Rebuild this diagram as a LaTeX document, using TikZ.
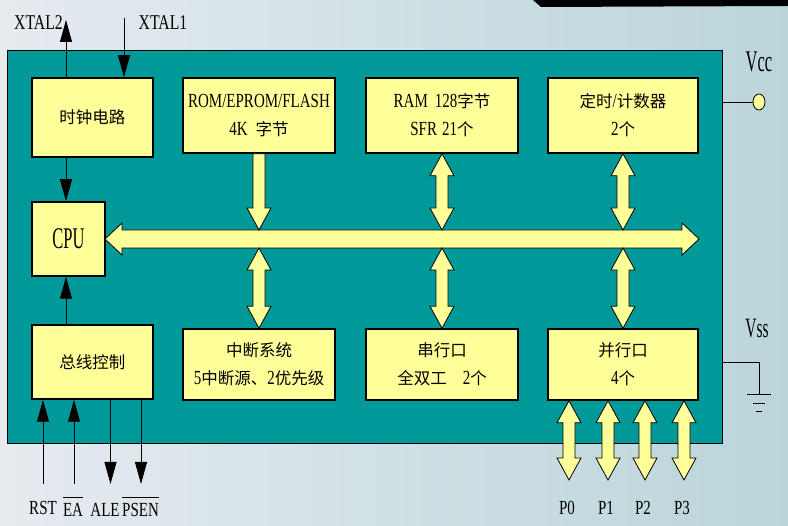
\documentclass[tikz,border=0pt]{standalone}
\usepackage{fontspec}
\setmainfont{Liberation Serif}[FakeStretch=0.75]
\newfontfamily\narrow{Liberation Serif}[FakeStretch=0.55]
\newfontfamily\cjk{Noto Sans CJK SC}
\usetikzlibrary{arrows.meta,calc,shapes.geometric}

\definecolor{chipteal}{RGB}{0,153,153}
\definecolor{boxyellow}{RGB}{255,255,153}
\definecolor{bgleft}{RGB}{230,235,240}
\definecolor{bgright}{RGB}{186,213,218}

\newcommand\zh[1]{{\cjk\fontsize{16.5}{28}\selectfont #1}}
\newcommand\ovl[1]{\vbox{\hrule height 1.2pt\kern 6pt\hbox{#1}}}

% fat arrows: double (top tip, bottom tip), single down, horizontal bus
\newcommand\fatvv[2]{\draw[fat] let \p1=(#1), \p2=(#2) in
  (\x1,\y1) -- ++(12pt,-22pt) -- ++(-6pt,0pt) -- ({\x1+6pt},{\y2+22pt}) -- ++(6pt,0pt)
  -- (\x1,\y2) -- ++(-12pt,22pt) -- ++(6pt,0pt) -- ({\x1-6pt},{\y1-22pt}) -- ++(-6pt,0pt) -- cycle;}
\newcommand\fatv[2]{\draw[fat] let \p1=(#1), \p2=(#2) in
  ({\x1-6pt},\y1) -- ({\x1+6pt},\y1) -- ({\x1+6pt},{\y2+22pt}) -- ++(6pt,0pt)
  -- (\x1,\y2) -- ++(-12pt,22pt) -- ++(6pt,0pt) -- cycle;}
\newcommand\fathh[2]{\draw[fat] let \p1=(#1), \p2=(#2) in
  (\x1,\y1) -- ++(17pt,16pt) -- ++(0pt,-7pt) -- ({\x2-17pt},{\y1+9pt}) -- ++(0pt,7pt)
  -- (\x2,\y1) -- ++(-17pt,-16pt) -- ++(0pt,7pt) -- ({\x1+17pt},{\y1-9pt}) -- ++(0pt,-7pt) -- cycle;}

\begin{document}
\begin{tikzpicture}[x=1pt,y=-1pt,
  box/.style={draw, line width=1.5pt, fill=boxyellow, minimum width=152pt, minimum height=73pt,
    align=center, inner sep=0pt, font=\fontsize{20}{28}\selectfont},
  sig/.style={line width=0.8pt, -{Triangle[length=22pt,width=12pt]}},
  fat/.style={draw, fill=boxyellow, line width=0.8pt},
  lbl/.style={inner sep=0pt, anchor=base, font=\fontsize{20}{20}\selectfont}]
\useasboundingbox (0,0) rectangle (788,526);
\shade[left color=bgleft, right color=bgright] (0,0) rectangle (788,526);
\fill[black] (533,0) -- (788,0) -- (788,6) -- (541,7) -- cycle;

% chip
\node[draw, fill=chipteal, line width=0.8pt, minimum width=715pt, minimum height=393pt, inner sep=0pt] (chip) at (364.5,246.5) {};

% blocks
\node[box, minimum width=121pt, minimum height=79pt] (clk) at (92.5,117.5) {\zh{时钟电路}};
\node[box, minimum height=75pt] (rom) at (259,115.5) {ROM/EPROM/FLASH\\4K\hspace{8pt}\zh{字节}};
\node[box, minimum height=75pt] (ram) at (442,115.5) {RAM\hspace{7pt}128\zh{字节}\\SFR\hspace{5pt}21\zh{个}};
\node[box, minimum width=150pt, minimum height=75pt] (tim) at (623,115.5) {\zh{定时}/\zh{计数器}\\2\zh{个}};
\node[box, minimum width=73pt, minimum height=74pt, font=\narrow\fontsize{30}{30}\selectfont] (cpu) at (68.5,239) {CPU};
\node[box, minimum width=121pt, minimum height=74pt] (bc) at (92.5,362) {\zh{总线控制}};
\node[box, minimum height=71pt] (int) at (259,364.5) {\zh{中断系统}\\5\zh{中断源、}2\zh{优先级}};
\node[box, minimum height=71pt] (ser) at (442,364.5) {\zh{串行口}\\\zh{全双工}\hspace{16pt}2\zh{个}};
\node[box, minimum width=150pt, minimum height=71pt] (par) at (623,364.5) {\zh{并行口}\\4\zh{个}};

% bus
\coordinate (busL) at (105,239);
\coordinate (busR) at (699,239);
\coordinate (busT) at (0,230);
\coordinate (busB) at (0,248);
\fathh{busL}{busR}
\fatv{rom.south}{rom.south |- busT}
\fatvv{ram.south}{ram.south |- busT}
\fatvv{tim.south}{tim.south |- busT}
\fatvv{int.north |- busB}{int.north}
\fatvv{ser.north |- busB}{ser.north}
\fatvv{par.north |- busB}{par.north}

% ports
\foreach \i/\x in {0/569,1/608,2/645,3/684} {
  \coordinate (p\i) at (\x,480);
  \fatvv{par.south -| p\i}{p\i}
  \node[lbl] (plbl\i) at (\x-2,515) {P\i};
}

% clock and control lines
\coordinate (x2end) at (66,20);
\coordinate (x1end) at (124,18);
\draw[sig] (clk.north -| x2end) -- (x2end);
\draw[sig] (x1end) -- (x1end |- clk.north);
\draw[sig] (clk.south -| x2end) -- (cpu.north -| x2end);
\draw[sig] (bc.north -| x2end) -- (cpu.south -| x2end);
\node[lbl, font=\fontsize{21}{21}\selectfont] (xtal2) at (38.5,30) {XTAL2};
\node[lbl, font=\fontsize{21}{21}\selectfont] (xtal1) at (163,30) {XTAL1};

\coordinate (rst) at (43,484);
\coordinate (ea) at (74,484);
\coordinate (ale) at (110.5,484);
\coordinate (psen) at (141,484);
\draw[sig] (rst) -- (rst |- bc.south);
\draw[sig] (ea) -- (ea |- bc.south);
\draw[sig] (ale |- bc.south) -- (ale);
\draw[sig] (psen |- bc.south) -- (psen);
\node[lbl] (rstlbl) at (43,515) {RST};
\node[lbl] (ealbl) at (73,517) {\ovl{EA}};
\node[lbl] (alelbl) at (105,517) {ALE};
\node[lbl] (psenlbl) at (140.5,517) {\ovl{PSEN}};

% power
\node[draw, ellipse, fill=boxyellow, line width=0.8pt, minimum width=12pt, minimum height=16pt, inner sep=0pt] (vcc) at (759,102) {};
\draw[line width=0.8pt] (chip.east |- vcc) -- (vcc.west);
\node[lbl, font=\narrow\fontsize{30}{30}\selectfont] (vcclbl) at (759,72) {Vcc};
\coordinate (vssj) at (759,362);
\coordinate (gnd) at (759,394);
\draw[line width=0.8pt] (chip.east |- vssj) -- (vssj) -- (gnd);
\draw[line width=0.8pt] ([xshift=-12pt]gnd) -- ([xshift=12pt]gnd);
\draw[line width=0.8pt] ([xshift=-6pt,yshift=-9pt]gnd) -- ([xshift=6pt,yshift=-9pt]gnd);
\draw[line width=0.8pt] ([xshift=-3pt,yshift=-17pt]gnd) -- ([xshift=3pt,yshift=-17pt]gnd);
\node[lbl, font=\narrow\fontsize{28}{28}\selectfont] (vsslbl) at (757,338) {Vss};
\end{tikzpicture}
\end{document}
